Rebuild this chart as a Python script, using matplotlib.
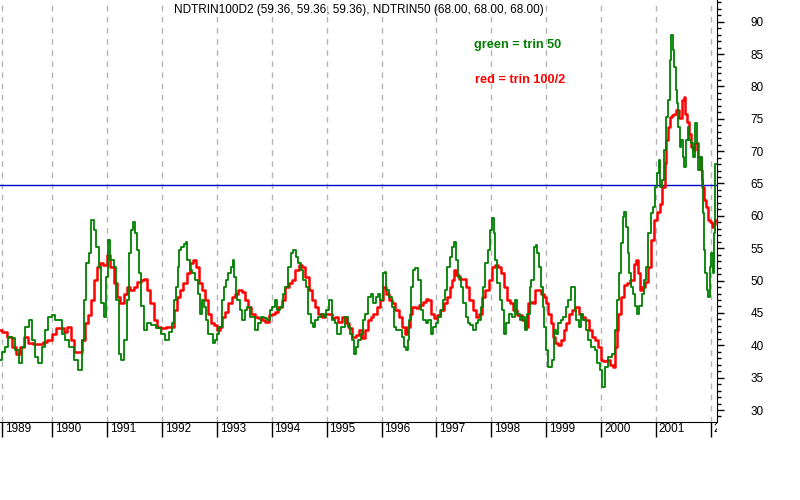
import matplotlib
matplotlib.use("Agg")
import matplotlib.pyplot as plt
from matplotlib.ticker import MultipleLocator
from matplotlib.transforms import ScaledTranslation, Bbox, TransformedBbox

plt.rcParams['font.family'] = ['Liberation Sans', 'DejaVu Sans']

# trin 50 (green), decimal years / values
green_t = [1989.05, 1989.11, 1989.17, 1989.23, 1989.29, 1989.36, 1989.42, 1989.48, 1989.54, 1989.60,
           1989.66, 1989.72, 1989.78, 1989.84, 1989.90, 1989.96, 1990.02, 1990.08, 1990.15, 1990.21,
           1990.27, 1990.36, 1990.42, 1990.51, 1990.56, 1990.60, 1990.64, 1990.69, 1990.74, 1990.78,
           1990.82, 1990.87, 1990.92, 1990.96, 1990.99, 1991.03, 1991.09, 1991.15, 1991.19, 1991.23,
           1991.27, 1991.33, 1991.38, 1991.41, 1991.46, 1991.49, 1991.52, 1991.56, 1991.60, 1991.65,
           1991.70, 1991.76, 1991.85, 1991.94, 1992.03, 1992.09, 1992.15, 1992.21, 1992.24, 1992.27,
           1992.30, 1992.33, 1992.38, 1992.42, 1992.45, 1992.48, 1992.53, 1992.57, 1992.64, 1992.68,
           1992.71, 1992.74, 1992.79, 1992.83, 1992.86, 1992.91, 1992.94, 1992.99, 1993.03, 1993.06,
           1993.11, 1993.15, 1993.19, 1993.23, 1993.27, 1993.30, 1993.33, 1993.36, 1993.39, 1993.44,
           1993.48, 1993.53, 1993.58, 1993.62, 1993.67, 1993.73, 1993.78, 1993.82, 1993.88, 1993.94,
           1993.98, 1994.03, 1994.08, 1994.12, 1994.18, 1994.23, 1994.27, 1994.32, 1994.37, 1994.41,
           1994.46, 1994.50, 1994.55, 1994.59, 1994.64, 1994.69, 1994.73, 1994.77, 1994.82, 1994.88,
           1994.93, 1994.97, 1995.02, 1995.06, 1995.09, 1995.12, 1995.17, 1995.22, 1995.31, 1995.36,
           1995.40, 1995.44, 1995.48, 1995.52, 1995.55, 1995.60, 1995.64, 1995.68, 1995.73, 1995.78,
           1995.82, 1995.87, 1995.91, 1995.96, 1996.00, 1996.04, 1996.07, 1996.11, 1996.16, 1996.21,
           1996.25, 1996.29, 1996.34, 1996.39, 1996.43, 1996.46, 1996.49, 1996.52, 1996.55, 1996.59,
           1996.64, 1996.69, 1996.73, 1996.78, 1996.83, 1996.87, 1996.92, 1996.96, 1997.01, 1997.06,
           1997.10, 1997.14, 1997.18, 1997.22, 1997.26, 1997.31, 1997.34, 1997.37, 1997.42, 1997.46,
           1997.51, 1997.55, 1997.60, 1997.64, 1997.69, 1997.74, 1997.78, 1997.83, 1997.86, 1997.91,
           1997.95, 1997.99, 1998.03, 1998.05, 1998.09, 1998.13, 1998.17, 1998.22, 1998.25, 1998.29,
           1998.34, 1998.40, 1998.45, 1998.49, 1998.54, 1998.58, 1998.63, 1998.68, 1998.71, 1998.75,
           1998.79, 1998.82, 1998.86, 1998.89, 1998.92, 1998.95, 1998.98, 1999.01, 1999.04, 1999.08,
           1999.12, 1999.15, 1999.19, 1999.24, 1999.28, 1999.33, 1999.38, 1999.42, 1999.47, 1999.50,
           1999.53, 1999.57, 1999.61, 1999.65, 1999.69, 1999.74, 1999.79, 1999.85, 1999.91, 1999.95,
           1999.99, 2000.03, 2000.10, 2000.16, 2000.22, 2000.27, 2000.31, 2000.34, 2000.37, 2000.41,
           2000.44, 2000.47, 2000.50, 2000.53, 2000.56, 2000.60, 2000.64, 2000.68, 2000.71, 2000.76,
           2000.80, 2000.83, 2000.88, 2000.92, 2000.96, 2001.00, 2001.03, 2001.06, 2001.09, 2001.12,
           2001.17, 2001.20, 2001.23, 2001.26, 2001.29, 2001.32, 2001.35, 2001.37, 2001.39, 2001.42,
           2001.44, 2001.47, 2001.50, 2001.53, 2001.56, 2001.59, 2001.62, 2001.65, 2001.69, 2001.73,
           2001.75, 2001.78, 2001.82, 2001.84, 2001.86, 2001.89, 2001.91, 2001.94, 2001.96, 2001.99,
           2002.02, 2002.05, 2002.07, 2002.09]
green_v = [37.7, 39.0, 39.8, 41.3, 41.1, 39.3, 37.2, 39.8, 42.9, 43.9,
           40.8, 38.2, 37.2, 39.8, 42.3, 44.4, 44.7, 43.9, 43.9, 41.8,
           40.8, 39.8, 37.7, 36.2, 40.8, 47.0, 52.7, 54.2, 59.3, 57.8,
           55.2, 52.1, 46.5, 44.4, 50.6, 56.3, 53.2, 52.1, 47.0, 38.7,
           37.7, 40.8, 47.0, 54.2, 57.8, 59.1, 57.3, 54.7, 51.1, 46.0,
           42.3, 43.4, 43.1, 42.6, 41.8, 40.8, 42.0, 43.4, 47.0, 49.0,
           52.1, 54.7, 55.2, 55.7, 56.0, 53.2, 51.6, 51.1, 50.1, 48.0,
           44.9, 47.0, 45.9, 43.9, 41.8, 41.8, 40.3, 40.8, 41.8, 42.9,
           47.0, 49.0, 50.1, 51.1, 52.1, 53.2, 50.6, 48.0, 47.0, 45.4,
           43.9, 45.4, 45.9, 44.4, 44.4, 42.3, 43.4, 44.4, 44.2, 43.9,
           45.4, 45.9, 47.0, 45.4, 45.9, 48.0, 49.0, 52.1, 54.2, 54.7,
           53.7, 52.7, 51.6, 50.1, 49.0, 44.9, 43.4, 42.9, 43.9, 44.4,
           44.9, 44.4, 45.4, 47.0, 47.0, 43.9, 43.4, 41.8, 42.9, 44.4,
           42.9, 41.8, 40.8, 38.7, 39.8, 40.8, 41.8, 43.9, 44.9, 47.5,
           48.0, 46.5, 47.5, 48.0, 47.0, 51.1, 51.4, 48.5, 47.5, 45.9,
           42.9, 42.3, 42.3, 41.3, 39.8, 39.3, 40.8, 43.9, 49.0, 51.6,
           51.9, 50.1, 45.4, 43.9, 43.4, 43.9, 41.8, 42.9, 43.4, 44.4,
           45.4, 47.0, 48.5, 52.1, 53.7, 55.2, 56.0, 53.2, 50.6, 49.0,
           46.5, 44.4, 43.4, 43.1, 42.3, 43.4, 43.9, 45.9, 49.0, 52.7,
           54.7, 57.8, 59.6, 57.3, 53.2, 49.6, 47.0, 45.4, 41.8, 43.4,
           44.9, 44.4, 47.0, 44.9, 43.9, 44.4, 42.3, 44.9, 49.0, 50.1,
           55.2, 55.5, 54.2, 52.1, 49.0, 45.9, 42.9, 39.3, 36.7, 36.7,
           37.7, 42.3, 41.8, 43.4, 43.9, 44.4, 45.9, 47.0, 49.0, 49.0,
           45.4, 43.9, 42.9, 44.9, 43.9, 42.3, 40.8, 39.8, 39.3, 37.2,
           36.2, 33.6, 36.7, 38.2, 38.7, 42.3, 47.0, 51.1, 55.8, 59.9,
           60.6, 58.3, 54.2, 51.1, 49.0, 48.0, 46.0, 44.9, 46.0, 48.0,
           50.1, 52.1, 57.3, 60.4, 61.4, 64.5, 66.6, 68.6, 64.5, 65.5,
           70.2, 75.3, 77.9, 84.1, 87.9, 85.6, 83.0, 79.4, 77.4, 73.8,
           70.7, 71.7, 69.1, 67.6, 71.7, 73.8, 71.7, 71.2, 69.1, 74.3,
           71.2, 67.1, 69.1, 65.5, 60.4, 54.7, 51.1, 48.5, 47.5, 52.1,
           54.2, 51.1, 57.3, 68.0]

# trin 100/2 (red)
red_t = [1989.05, 1989.14, 1989.23, 1989.29, 1989.39, 1989.45, 1989.51, 1989.60, 1989.69, 1989.78,
         1989.87, 1989.96, 1990.03, 1990.10, 1990.18, 1990.24, 1990.31, 1990.36, 1990.44, 1990.51,
         1990.56, 1990.62, 1990.68, 1990.74, 1990.78, 1990.84, 1990.90, 1990.96, 1991.03, 1991.09,
         1991.15, 1991.21, 1991.27, 1991.33, 1991.39, 1991.45, 1991.52, 1991.58, 1991.64, 1991.70,
         1991.76, 1991.82, 1991.88, 1991.94, 1992.03, 1992.12, 1992.20, 1992.24, 1992.30, 1992.36,
         1992.42, 1992.48, 1992.54, 1992.60, 1992.65, 1992.70, 1992.76, 1992.82, 1992.86, 1992.91,
         1992.97, 1993.03, 1993.07, 1993.12, 1993.18, 1993.24, 1993.30, 1993.36, 1993.42, 1993.48,
         1993.53, 1993.59, 1993.66, 1993.72, 1993.78, 1993.85, 1993.92, 1993.97, 1994.03, 1994.09,
         1994.15, 1994.21, 1994.27, 1994.34, 1994.40, 1994.46, 1994.52, 1994.58, 1994.64, 1994.70,
         1994.76, 1994.82, 1994.88, 1994.94, 1995.00, 1995.06, 1995.12, 1995.18, 1995.25, 1995.32,
         1995.38, 1995.44, 1995.50, 1995.56, 1995.62, 1995.68, 1995.73, 1995.78, 1995.82, 1995.88,
         1995.94, 1996.00, 1996.05, 1996.10, 1996.16, 1996.22, 1996.28, 1996.34, 1996.39, 1996.45,
         1996.49, 1996.53, 1996.59, 1996.65, 1996.72, 1996.78, 1996.84, 1996.87, 1996.92, 1996.98,
         1997.04, 1997.10, 1997.16, 1997.22, 1997.26, 1997.31, 1997.34, 1997.38, 1997.44, 1997.51,
         1997.57, 1997.63, 1997.69, 1997.75, 1997.81, 1997.86, 1997.92, 1997.98, 1998.03, 1998.09,
         1998.15, 1998.21, 1998.25, 1998.31, 1998.37, 1998.43, 1998.52, 1998.58, 1998.65, 1998.69,
         1998.74, 1998.78, 1998.82, 1998.88, 1998.94, 1998.98, 1999.02, 1999.06, 1999.10, 1999.14,
         1999.19, 1999.25, 1999.30, 1999.34, 1999.39, 1999.44, 1999.50, 1999.56, 1999.62, 1999.68,
         1999.74, 1999.80, 1999.86, 1999.92, 1999.97, 2000.01, 2000.07, 2000.13, 2000.19, 2000.24,
         2000.27, 2000.30, 2000.33, 2000.38, 2000.44, 2000.50, 2000.56, 2000.62, 2000.65, 2000.68,
         2000.72, 2000.77, 2000.83, 2000.89, 2000.94, 2000.98, 2001.04, 2001.09, 2001.14, 2001.17,
         2001.20, 2001.23, 2001.26, 2001.31, 2001.35, 2001.39, 2001.44, 2001.49, 2001.52, 2001.55,
         2001.59, 2001.62, 2001.66, 2001.69, 2001.74, 2001.79, 2001.83, 2001.86, 2001.89, 2001.93,
         2001.96, 2002.00, 2002.03, 2002.06, 2002.09]
red_v = [42.3, 42.1, 41.3, 39.8, 38.7, 39.8, 41.3, 40.4, 40.2, 40.2,
         40.5, 40.8, 41.8, 42.6, 42.6, 42.1, 42.9, 40.8, 39.0, 39.0,
         40.8, 43.4, 44.7, 47.0, 50.1, 52.1, 52.7, 52.4, 53.9, 52.1,
         49.6, 47.5, 46.5, 48.0, 49.0, 48.5, 49.0, 49.8, 50.1, 50.3,
         48.5, 46.5, 43.9, 42.9, 42.6, 42.8, 42.9, 45.4, 47.5, 48.5,
         49.6, 51.1, 52.7, 53.2, 52.1, 49.6, 48.5, 47.0, 44.9, 43.4,
         43.1, 42.3, 42.9, 44.4, 45.2, 46.5, 47.5, 48.0, 48.5, 48.3,
         47.0, 45.9, 44.9, 44.4, 44.2, 43.9, 43.6, 44.7, 44.9, 45.2,
         45.9, 47.0, 49.0, 49.6, 50.1, 51.6, 52.4, 52.1, 50.6, 48.5,
         47.0, 45.9, 44.9, 44.4, 44.9, 44.9, 44.2, 44.4, 43.6, 44.4,
         43.4, 42.6, 41.3, 41.6, 42.3, 41.1, 42.3, 43.9, 44.4, 44.9,
         45.9, 47.0, 49.0, 48.0, 47.0, 46.5, 45.4, 44.4, 42.9, 41.8,
         42.9, 44.9, 45.9, 45.7, 46.2, 46.7, 47.2, 47.0, 44.9, 44.2,
         44.7, 45.4, 46.5, 47.5, 49.0, 50.1, 51.6, 50.9, 50.3, 50.3,
         49.0, 47.0, 45.4, 44.4, 44.9, 47.5, 48.5, 50.1, 52.1, 52.4,
         52.1, 51.1, 49.0, 47.0, 46.5, 45.4, 44.7, 43.9, 42.9, 46.5,
         46.7, 46.5, 48.5, 48.5, 48.0, 47.5, 46.5, 44.9, 43.4, 41.3,
         40.3, 40.0, 40.8, 42.3, 43.4, 44.9, 45.4, 45.9, 44.9, 44.4,
         43.9, 42.3, 41.3, 40.8, 39.8, 37.7, 37.5, 37.7, 36.9, 36.7,
         39.8, 42.3, 44.9, 47.5, 49.3, 49.6, 50.1, 52.6, 53.2, 51.1,
         48.5, 49.0, 49.8, 52.1, 56.3, 59.3, 60.6, 61.9, 64.5, 68.1,
         71.7, 73.8, 75.3, 75.6, 75.8, 76.3, 75.1, 77.9, 78.4, 75.8,
         74.5, 72.7, 70.7, 70.2, 71.2, 69.1, 67.1, 64.5, 62.4, 61.4,
         59.3, 59.1, 58.3, 58.8, 59.36]

tick_pos = [1989.09, 1990, 1991, 1992, 1993, 1994, 1995, 1996, 1997, 1998, 1999, 2000, 2001, 2002]
tick_lab = ['1989', '1990', '1991', '1992', '1993', '1994', '1995', '1996', '1997', '1998',
            '1999', '2000', '2001', '2002']
level = 64.7

fig = plt.figure(figsize=(8, 5), dpi=100, facecolor='white')
ax = fig.add_axes([0, 78 / 500, 717 / 800, 422 / 500])

for t in tick_pos:
    ax.axvline(t, color='#b4b4b4', lw=1, ls=(0, (4, 4)), zorder=1)
ax.axhline(level, color='#0000c8', lw=1, zorder=2)

ax.plot(red_t, red_v, color='#ff0000', lw=1.8, drawstyle='steps-mid', zorder=3)
ax.plot(green_t, green_v, color='#008000', lw=1.3, drawstyle='steps-mid', zorder=4)

ax.set_xlim(1989.05, 2002.11)
ax.set_ylim(28.15, 93.35)

for s in ['top', 'left']:
    ax.spines[s].set_visible(False)
ax.spines['bottom'].set_color('black')
ax.spines['right'].set_color('black')

ax.yaxis.tick_right()
ax.yaxis.set_major_locator(MultipleLocator(5))
ax.yaxis.set_minor_locator(MultipleLocator(1))
ax.set_yticks(range(30, 91, 5))
ax.tick_params(axis='y', which='major', length=5, width=1, pad=19, labelsize=8.5)
ax.tick_params(axis='y', which='minor', length=3, width=1)

ax.set_xticks(tick_pos)
ax.set_xticklabels(tick_lab)
ax.tick_params(axis='x', length=11, width=1, pad=-10, labelsize=8.5)
clip = TransformedBbox(Bbox([[0, 0], [717 / 800, 1]]), fig.transFigure)
shift = ScaledTranslation(2 / 72, 0, fig.dpi_scale_trans)
for lab in ax.get_xticklabels():
    lab.set_horizontalalignment('left')
    lab.set_transform(lab.get_transform() + shift)
    lab.set_clip_box(clip)
    lab.set_clip_on(True)

fig.text(359 / 800, 1 - 10 / 500,
         'NDTRIN100D2 (59.36, 59.36, 59.36), NDTRIN50 (68.00, 68.00, 68.00)',
         ha='center', va='center', fontsize=8.5)
fig.text(474 / 800, 1 - 45 / 500, 'green = trin 50', color='#008000',
         fontweight='bold', fontsize=9.2, ha='left', va='center')
fig.text(475 / 800, 1 - 80 / 500, 'red = trin 100/2', color='#ff0000',
         fontweight='bold', fontsize=9.2, ha='left', va='center')

fig.savefig('out.png', dpi=100, facecolor='white')
